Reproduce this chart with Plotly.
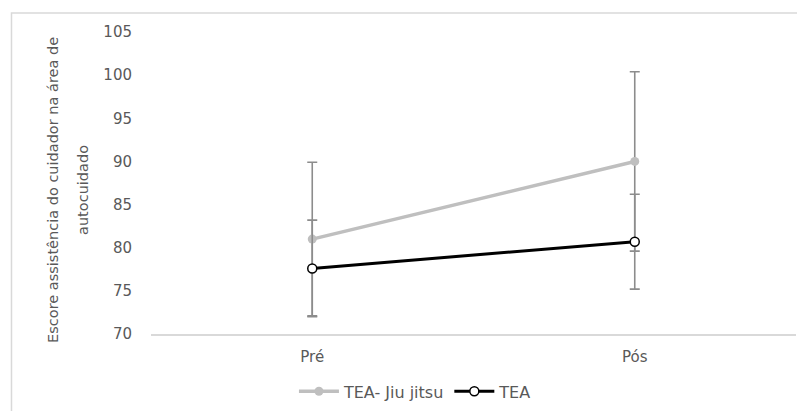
import plotly.graph_objects as go

categories = ["Pré", "Pós"]
jiu_mean = [81.0, 90.0]
jiu_sd = [8.9, 10.4]
tea_mean = [77.6, 80.7]
tea_sd = [5.6, 5.5]
y_ticks = [70, 75, 80, 85, 90, 95, 100, 105]
y_title_lines = ["Escore assistência do cuidador na área de", "autocuidado"]

FONT = "DejaVu Sans"
GRAY_TXT = "#595959"

fig = go.Figure()
fig.add_trace(go.Scatter(
    x=categories, y=jiu_mean, name="TEA- Jiu jitsu", mode="lines+markers",
    line=dict(color="#bfbfbf", width=3.5),
    marker=dict(color="#bfbfbf", size=9, symbol="circle"),
    error_y=dict(type="data", array=jiu_sd, visible=True, color="#8c8c8c", thickness=1.6, width=5),
))
fig.add_trace(go.Scatter(
    x=categories, y=tea_mean, name="TEA", mode="lines+markers",
    line=dict(color="#000000", width=3),
    marker=dict(color="#ffffff", size=9, symbol="circle", line=dict(color="#000000", width=1.5)),
    error_y=dict(type="data", array=tea_sd, visible=True, color="#8c8c8c", thickness=1.6, width=5),
))

annotations = [
    dict(text=y_title_lines[0], x=-0.152, y=0.477, xref="paper", yref="paper",
         textangle=-90, showarrow=False, xanchor="center", yanchor="middle",
         font=dict(size=14.5, color=GRAY_TXT, family=FONT)),
    dict(text=y_title_lines[1], x=-0.1054, y=0.477, xref="paper", yref="paper",
         textangle=-90, showarrow=False, xanchor="center", yanchor="middle",
         font=dict(size=14.5, color=GRAY_TXT, family=FONT)),
]

fig.update_layout(
    width=797, height=403,
    margin=dict(l=143, r=9, t=24, b=77, autoexpand=False),
    paper_bgcolor="white", plot_bgcolor="white",
    font=dict(family=FONT, color=GRAY_TXT, size=14),
    showlegend=True,
    legend=dict(orientation="h", x=0.41, xanchor="center", y=-0.19, yanchor="middle",
                font=dict(size=16, color=GRAY_TXT), itemwidth=40, tracegroupgap=0),
    xaxis=dict(type="category", categoryorder="array", categoryarray=categories,
               range=[-0.5, 1.5], showgrid=False, zeroline=False, automargin=False,
               showline=True, linecolor="#d9d9d9", linewidth=1.5,
               ticks="", ticklabelstandoff=8, tickfont=dict(size=15, color=GRAY_TXT)),
    yaxis=dict(range=[70, 105], tickvals=y_ticks, showgrid=False, zeroline=False,
               showline=False, ticks="", ticklabelstandoff=18, automargin=False,
               tickfont=dict(size=15, color=GRAY_TXT)),
    annotations=annotations,
    shapes=[dict(type="rect", xref="paper", yref="paper",
                 x0=-0.2163, x1=1.2, y0=-0.6, y1=1.063,
                 line=dict(color="#d9d9d9", width=1.5), fillcolor="rgba(0,0,0,0)", layer="below")],
)

fig.write_html("out.html")
